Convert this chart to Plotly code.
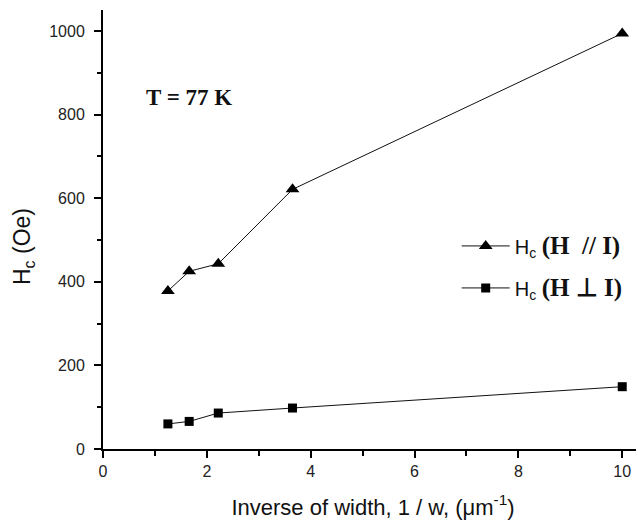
import plotly.graph_objects as go

# Data
inv_width = [1.25, 1.66, 2.22, 3.65, 10.0]
hc_parallel = [378, 425, 443, 621, 994]
hc_perp = [60, 66, 86, 98, 149]

x_ticks = [0, 2, 4, 6, 8, 10]
y_ticks = [0, 200, 400, 600, 800, 1000]

SANS = "Liberation Sans, Arial, sans-serif"
SERIF = "Liberation Serif, Times New Roman, serif"

name_par = ("H<sub>c</sub> <span style='font-family:Liberation Serif;font-size:25px'>"
            "<b>(H\u00a0 // I)</b></span>")
name_perp = ("H<sub>c</sub> <span style='font-family:Liberation Serif;font-size:25px'>"
             "<b>(H \u22a5 I)</b></span>")

fig = go.Figure()
fig.add_trace(go.Scatter(
    x=inv_width, y=hc_parallel, mode="lines+markers", name=name_par,
    line=dict(color="#111", width=1),
    marker=dict(symbol="triangle-up", size=12, color="#000"),
    legendgroup="a",
))
fig.add_trace(go.Scatter(
    x=inv_width, y=hc_perp, mode="lines+markers", name=name_perp,
    line=dict(color="#111", width=1),
    marker=dict(symbol="square", size=9, color="#000"),
    legendgroup="b",
))

axis_common = dict(
    showline=True, linecolor="#000", linewidth=2,
    ticks="outside", ticklen=7, tickwidth=2, tickcolor="#000",
    showgrid=False, zeroline=False,
    tickfont=dict(family=SANS, size=16, color="#222"),
)

# the page body adds an 8px margin, so the figure is 8px smaller
fig.update_layout(
    width=636, height=512,
    margin=dict(l=95, r=1, t=2, b=71),
    paper_bgcolor="white", plot_bgcolor="white",
    font=dict(family=SANS, color="#111"),
    xaxis=dict(
        range=[0, 10.4], tickvals=x_ticks,
        minor=dict(ticks="outside", ticklen=5, tickwidth=2, dtick=1, tick0=0, tickcolor="#000"),
        title=dict(text="Inverse of width, 1 / w, (\u03bcm<sup>-1</sup>)",
                   font=dict(family=SANS, size=22, color="#111"), standoff=20),
        **axis_common,
    ),
    yaxis=dict(
        range=[0, 1050], tickvals=y_ticks,
        minor=dict(ticks="outside", ticklen=4, tickwidth=2, dtick=100, tick0=0, tickcolor="#000"),
        ticklabelstandoff=6,
        **axis_common,
    ),
    showlegend=True,
    legend=dict(
        x=0.655, y=0.507, xanchor="left", yanchor="top",
        font=dict(family=SANS, size=20, color="#111"),
        bgcolor="rgba(0,0,0,0)", tracegroupgap=13,
        traceorder="grouped", itemwidth=48,
    ),
    annotations=[
        dict(text="T = 77 K", x=0.16, y=0.80, xref="paper", yref="paper",
             showarrow=False, xanchor="center", yanchor="middle",
             font=dict(family=SERIF, size=23, color="#111", weight="bold")),
        dict(text="H<sub>c</sub> (Oe)", x=0, y=0.46, xref="paper", yref="paper",
             xshift=-80, textangle=-90, showarrow=False,
             xanchor="center", yanchor="middle",
             font=dict(family=SANS, size=23, color="#111")),
    ],
)

fig.write_html("out.html")
